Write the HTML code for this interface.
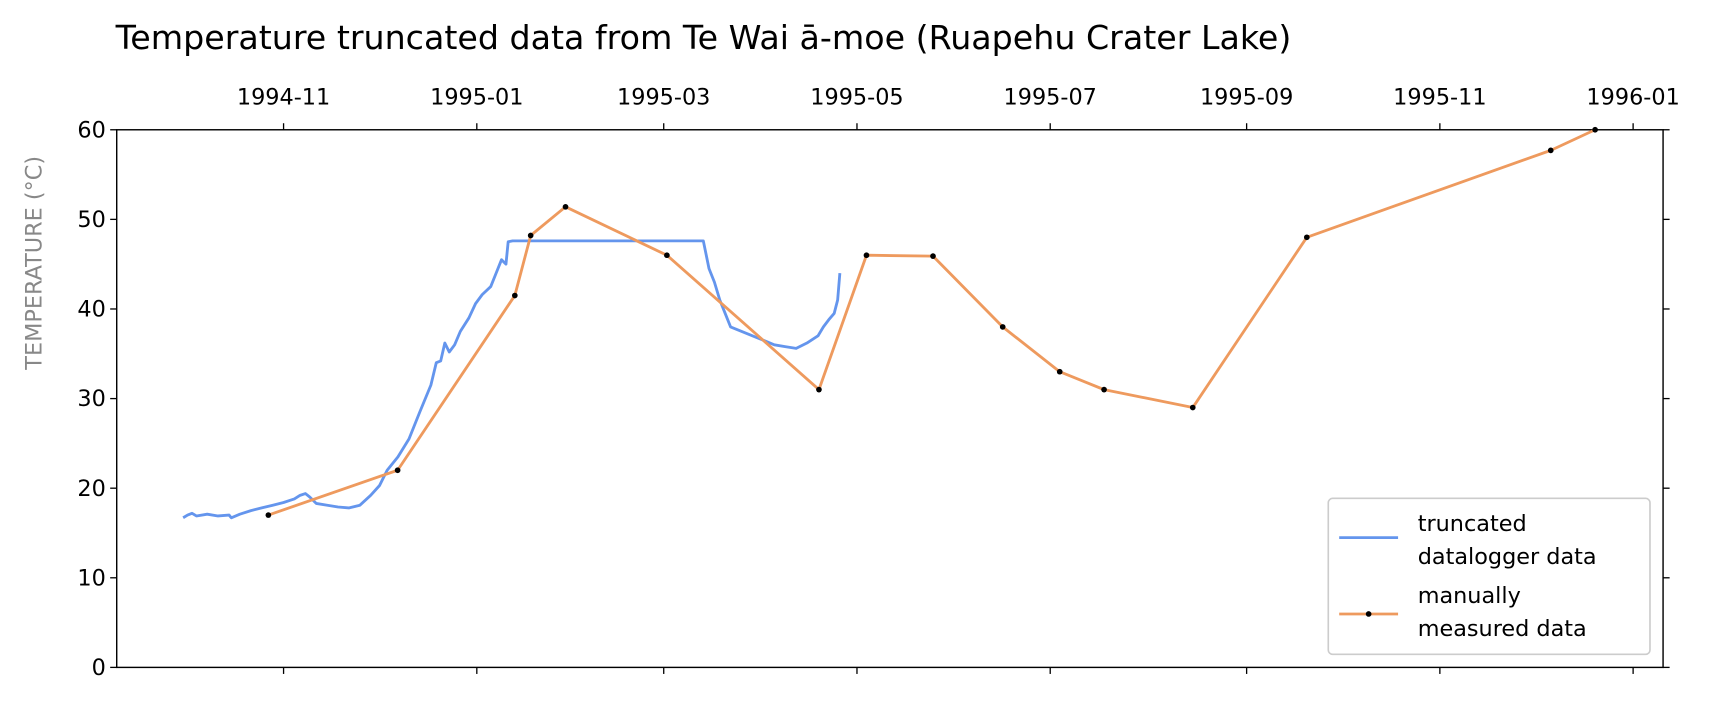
<!DOCTYPE html>
<html><head><meta charset="utf-8"><style>body{margin:0;background:#fff;overflow:hidden}svg{display:block;font-family:"DejaVu Sans","Liberation Sans",sans-serif}</style></head>
<body>
<svg id="chart" width="1710" height="706" viewBox="0 0 1568 647.4">
<text x="106" y="45" font-size="30.5" fill="#000">Temperature truncated data from Te Wai ā-moe (Ruapehu Crater Lake)</text>
<text transform="translate(38,241) rotate(-90)" text-anchor="middle" font-size="20.5" fill="#888">TEMPERATURE (°C)</text>
<g id="axes"></g>
<g id="series"></g>
<g>
<rect x="1218" y="457" width="295" height="143" rx="4" fill="#fff" stroke="#ccc" stroke-width="1.5"/>
<line x1="1228" y1="493" x2="1282" y2="493" stroke="#6495ed" stroke-width="2.5"/>
<text x="1300" y="487" font-size="20.5">truncated</text>
<text x="1300" y="517" font-size="20.5">datalogger data</text>
<line x1="1228" y1="563" x2="1282" y2="563" stroke="#ee9a5e" stroke-width="2.5"/>
<circle cx="1255" cy="563" r="2.6" fill="#000"/>
<text x="1300" y="553" font-size="20.5">manually</text>
<text x="1300" y="583" font-size="20.5">measured data</text>
</g>
</svg>
<script>
// days relative to 1994-11-01
const loggerDays=[-31.7,-30.3,-28.9,-27.5,-24.1,-20.7,-17.2,-16.5,-13.8,-10.3,-6.9,-3.4,0,3.4,5.2,6.9,8.3,10.3,13.8,17.2,20.7,24.1,27.5,30.3,32.7,36.1,39.6,43.0,46.5,48.2,49.6,50.9,52.3,54.0,55.8,58.5,60.6,62.7,65.4,67.1,68.8,70.2,70.9,72.3,132.5,134.3,136.0,137.7,139.4,141.1,144.6,148.0,151.5,154.9,158.3,161.8,165.2,168.7,170.4,172.1,173.8,174.9,175.6];
const loggerTemps=[16.7,17.0,17.2,16.9,17.1,16.9,17.0,16.7,17.1,17.5,17.8,18.1,18.4,18.8,19.2,19.4,19.0,18.3,18.1,17.9,17.8,18.1,19.2,20.3,22,23.5,25.5,28.5,31.5,34,34.2,36.2,35.2,36.0,37.5,39,40.6,41.6,42.5,44,45.5,45,47.5,47.6,47.6,44.5,43,41,39.5,38,37.5,37,36.5,36,35.8,35.6,36.2,37,38,38.8,39.5,41,44];
const manualDays=[-4.8,36,73,78,89,121,169,184,205,227,245,259,287,323,400,414];
const manualTemps=[17,22,41.5,48.2,51.4,46,31,46,45.9,38,33,31,29,48,57.7,60];
const xTickLabels=["1994-11","1995-01","1995-03","1995-05","1995-07","1995-09","1995-11","1996-01"];
const xTickDays=[0,61,120,181,242,304,365,426];
const yTicks=[0,10,20,30,40,50,60];

const NS="http://www.w3.org/2000/svg";
const L=107,R=1525,T=119,B=612;
const xs=d=>260+d*2.905;
const ys=v=>B-(v/60)*(B-T);
function mk(tag,attrs,parent){const e=document.createElementNS(NS,tag);for(const k in attrs)e.setAttribute(k,attrs[k]);parent.appendChild(e);return e;}
const axes=document.getElementById('axes'),series=document.getElementById('series');
const frame=mk('rect',{x:L,y:T,width:R-L,height:B-T,fill:'none',stroke:'#000','stroke-width':1.3},axes);


xTickDays.forEach((d,i)=>{
  const x=xs(d);
  const t1=mk('line',{x1:x,y1:T,x2:x,y2:T-6,stroke:'#000','stroke-width':1.2},axes);
  
  
  const t2=mk('line',{x1:x,y1:B,x2:x,y2:B+6,stroke:'#000','stroke-width':1.2},axes);
  
  
  const lb=mk('text',{x:x,y:96,'text-anchor':'middle','font-size':20.5},axes);
  lb.textContent=xTickLabels[i];
  
  
});
yTicks.forEach(v=>{
  const y=ys(v);
  const t1=mk('line',{x1:L,y1:y,x2:L-6,y2:y,stroke:'#000','stroke-width':1.2},axes);
  
  
  const t2=mk('line',{x1:R,y1:y,x2:R+6,y2:y,stroke:'#000','stroke-width':1.2},axes);
  
  
  const lb=mk('text',{x:L-10,y:y+7,'text-anchor':'end','font-size':20.5},axes);
  lb.textContent=v;
  
  
});
const lp=mk('polyline',{points:loggerDays.map((d,i)=>xs(d)+','+ys(loggerTemps[i])).join(' '),fill:'none',stroke:'#6495ed','stroke-width':2.6,'stroke-linejoin':'round'},series);


const mp=mk('polyline',{points:manualDays.map((d,i)=>xs(d)+','+ys(manualTemps[i])).join(' '),fill:'none',stroke:'#ee9a5e','stroke-width':2.6,'stroke-linejoin':'round'},series);


manualDays.forEach((d,i)=>{
  const c=mk('circle',{cx:xs(d),cy:ys(manualTemps[i]),r:2.6,fill:'#000'},series);
  
  
});
</script>
</body></html>
